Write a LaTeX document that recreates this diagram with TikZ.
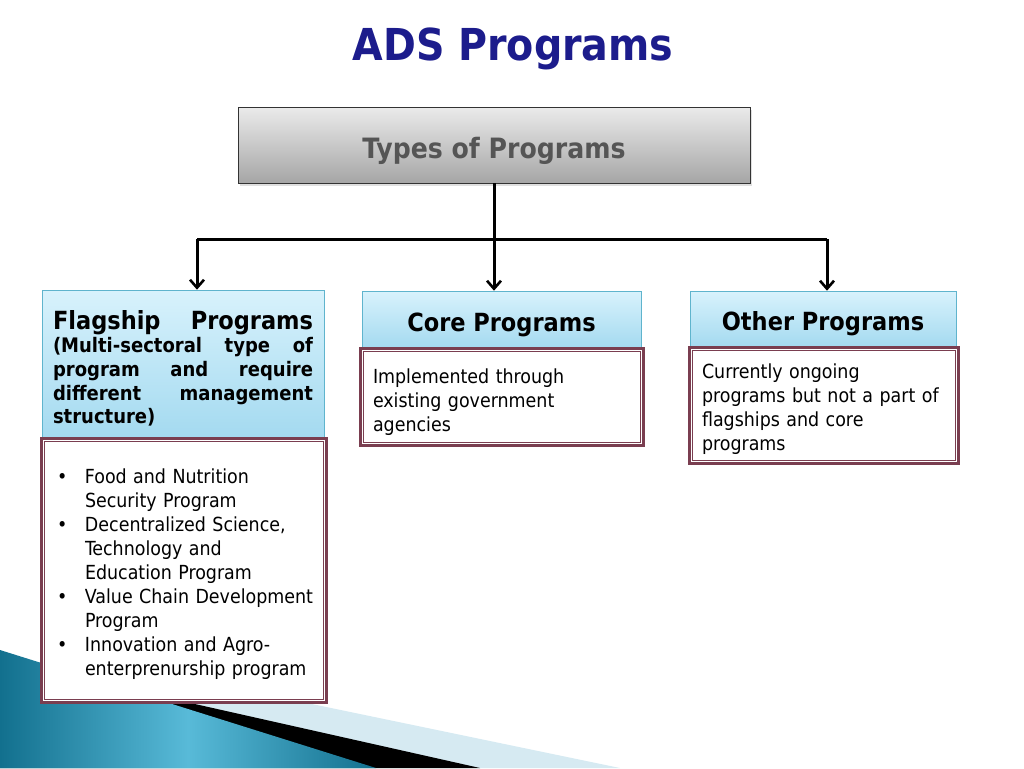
\documentclass[tikz,border=0pt]{standalone}
\usepackage{fontspec}
\setmainfont{DejaVu Sans Condensed}
\usepackage{tikz}
\usetikzlibrary{arrows.meta, positioning, calc, shadows}
\usepackage{xcolor}

\definecolor{titleblue}{RGB}{28,28,140}
\definecolor{typegray}{RGB}{85,85,85}
\definecolor{headtop}{RGB}{216,242,252}
\definecolor{headbot}{RGB}{164,218,240}
\definecolor{headline}{RGB}{95,180,205}
\definecolor{progmaroon}{RGB}{122,62,80}
\definecolor{tealdark}{RGB}{18,112,142}
\definecolor{teallight}{RGB}{88,186,216}
\definecolor{paleblue}{RGB}{214,234,242}

\tikzset{
  typesbox/.style={draw=black!80, line width=0.8pt, top color=black!8, bottom color=black!35,
    text=typegray, font=\bfseries\fontsize{28}{32}\selectfont, text height=26pt, text depth=0pt,
    drop shadow={shadow xshift=2pt, shadow yshift=-3pt, opacity=0.25}},
  headbox/.style={draw=headline, line width=0.6pt, top color=headtop, bottom color=headbot,
    inner sep=0pt, font=\bfseries\fontsize{25}{30}\selectfont},
  contentbox/.style={draw=progmaroon, line width=3pt, fill=white, inner sep=0pt, align=left,
    font=\fontsize{19.4}{24}\selectfont,
    drop shadow={shadow xshift=1.5pt, shadow yshift=-1.5pt, opacity=0.3}},
  bar/.style={line width=3pt},
  link/.style={line width=3pt, -{Straight Barb[length=8pt,width=14pt,line width=2.6pt]}}
}

\begin{document}
\begin{tikzpicture}[x=1pt, y=-1pt]
        \useasboundingbox (0,0) rectangle (1024,768);

        % corner swoosh
        \fill[paleblue] (0,700) -- (100,660) -- (620,768) -- (0,768) -- cycle;
        \fill[black] (0,700) -- (186,702) -- (480,768) -- (0,768) -- cycle;
        \shade[left color=tealdark, right color=tealdark, middle color=teallight] (0,650) -- (376,768) -- (0,768) -- cycle;

        \node[font=\bfseries\fontsize{44}{50}\selectfont, text=titleblue, anchor=base] (title) at (513,60) {ADS Programs};

        \node[typesbox, minimum width=512pt, minimum height=76pt] (types) at (494,145) {Types of Programs};

        \node[headbox, text width=260pt, align=justify, text height=24pt, text depth=93pt,
              minimum width=282pt, minimum height=147pt] (flag) at (183,363.5)
          {\makebox[260pt][s]{Flagship Programs}\par
           \fontsize{20}{23.7}\selectfont (Multi-sectoral type of\linebreak program and require\linebreak different management\linebreak structure)\par};
        \node[headbox, text height=23pt, text depth=0pt, minimum width=279pt, minimum height=57pt] (core) at (501.5,319.5) {Core Programs};
        \node[headbox, text height=23pt, text depth=0pt, minimum width=266pt, minimum height=56pt] (other) at (823,319) {Other Programs};

        \node[contentbox, text width=253pt, text height=210pt, text depth=0pt, minimum width=285pt, minimum height=264pt] (flagc) at (183.5,570)
          {\begin{tabular}[b]{@{}p{28pt}@{}l@{}}
           \textbullet & Food and Nutrition\\
                       & Security Program\\
           \textbullet & Decentralized Science,\\
                       & Technology and\\
                       & Education Program\\
           \textbullet & Value Chain Development\\
                       & Program\\
           \textbullet & Innovation and Agro-\\
                       & enterprenurship program
           \end{tabular}};
        \node[contentbox, text width=257pt, text height=20pt, text depth=47pt, minimum width=283pt, minimum height=97pt] (corec) at (501.5,396.5)
          {Implemented through\\ existing government\\ agencies};
        \node[contentbox, text width=243pt, text height=20pt, text depth=74pt, minimum width=269pt, minimum height=116pt] (otherc) at (823.5,405)
          {Currently ongoing\\ programs but not a part of\\ flagships and core\\ programs};

        \foreach \n in {flagc, corec, otherc}
          \draw[progmaroon, line width=0.8pt] ([shift={(4.5pt,-4.5pt)}]\n.north west) rectangle ([shift={(-4.5pt,4.5pt)}]\n.south east);

        \coordinate (bl) at (197,239);
        \coordinate (br) at (827,239);
        \draw[bar] (bl) -- (br);
        \draw[link] (types.south) -- (types.south |- core.north);
        \draw[link] (bl) -- (bl |- flag.north);
        \draw[link] (br) -- (br |- other.north);

      \end{tikzpicture}
\end{document}
